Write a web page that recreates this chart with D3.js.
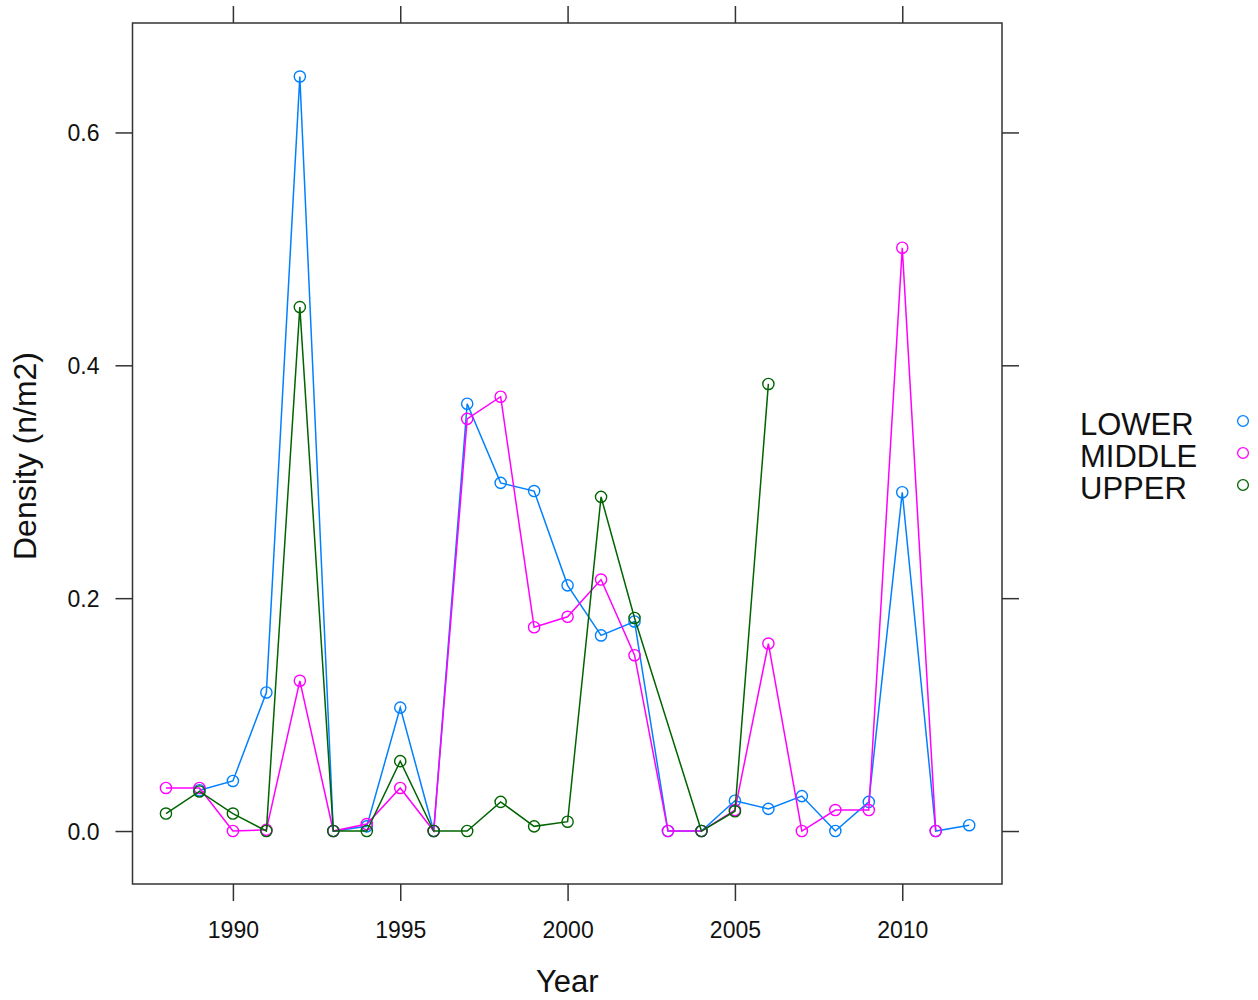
<!DOCTYPE html>
<html>
<head>
<meta charset="utf-8">
<script src="https://cdn.jsdelivr.net/npm/d3@7"></script>
<style>
  html, body { margin: 0; padding: 0; background: #ffffff; }
  svg { display: block; font-family: "Liberation Sans", Arial, sans-serif; }
</style>
</head>
<body>
<svg id="chart" width="1258" height="1000"></svg>
<script>
// Density by zone, yearly survey
const lowerYears  = [1989, 1990, 1991, 1992, 1993, 1994, 1995, 1996, 1997, 1998, 1999, 2000, 2001, 2002, 2003, 2004, 2005, 2006, 2007, 2008, 2009, 2010, 2011, 2012];
const lowerValues = [0.035, 0.043, 0.119, 0.648, 0.0, 0.004, 0.106, 0.0, 0.367, 0.299, 0.292, 0.211, 0.168, 0.180, 0.0, 0.0, 0.026, 0.019, 0.030, 0.0, 0.025, 0.291, 0.0, 0.005];

const middleYears  = [1988, 1989, 1990, 1991, 1992, 1993, 1994, 1995, 1996, 1997, 1998, 1999, 2000, 2001, 2002, 2003, 2004, 2005, 2006, 2007, 2008, 2009, 2010, 2011];
const middleValues = [0.037, 0.037, 0.0, 0.001, 0.129, 0.0, 0.006, 0.037, 0.0, 0.354, 0.373, 0.175, 0.184, 0.216, 0.151, 0.0, 0.0, 0.018, 0.161, 0.0, 0.018, 0.018, 0.501, 0.0];

const upperYears  = [1988, 1989, 1990, 1991, 1992, 1993, 1994, 1995, 1996, 1997, 1998, 1999, 2000, 2001, 2002, 2004, 2005, 2006];
const upperValues = [0.015, 0.034, 0.015, 0.0, 0.450, 0.0, 0.0, 0.060, 0.0, 0.0, 0.025, 0.004, 0.008, 0.287, 0.183, 0.0, 0.017, 0.384];

const groupNames = ["LOWER", "MIDDLE", "UPPER"];
const groupColors = ["#0080ff", "#ff00ff", "#006400"];

const xTicks = [1990, 1995, 2000, 2005, 2010];
const yTicks = [0.0, 0.2, 0.4, 0.6];

const xLabel = "Year";
const yLabel = "Density (n/m2)";

// Build series from the arrays above
const series = [
  { name: groupNames[0], color: groupColors[0], pts: lowerYears.map((y, i) => ({ x: y, v: lowerValues[i] })) },
  { name: groupNames[1], color: groupColors[1], pts: middleYears.map((y, i) => ({ x: y, v: middleValues[i] })) },
  { name: groupNames[2], color: groupColors[2], pts: upperYears.map((y, i) => ({ x: y, v: upperValues[i] })) }
];

const svg = d3.select("#chart");
const panel = { left: 132.5, right: 1002, top: 23, bottom: 884 };

const x = d3.scaleLinear().domain([1987.0, 2012.98]).range([panel.left, panel.right]);
const y = d3.scaleLinear().domain([-0.0455, 0.694]).range([panel.bottom, panel.top]);

const tickLen = 17;
const axisColor = "#333333";

// Axes: ticks on all four sides, labels on left and bottom only
const gBottom = svg.append("g").attr("transform", `translate(0,${panel.bottom})`)
  .call(d3.axisBottom(x).tickValues(xTicks).tickFormat(d3.format("d")).tickSize(tickLen).tickSizeOuter(0).tickPadding(21));
const gTop = svg.append("g").attr("transform", `translate(0,${panel.top})`)
  .call(d3.axisTop(x).tickValues(xTicks).tickFormat("").tickSize(tickLen).tickSizeOuter(0));
const gLeft = svg.append("g").attr("transform", `translate(${panel.left},0)`)
  .call(d3.axisLeft(y).tickValues(yTicks).tickFormat(d3.format(".1f")).tickSize(tickLen).tickSizeOuter(0).tickPadding(16));
const gRight = svg.append("g").attr("transform", `translate(${panel.right},0)`)
  .call(d3.axisRight(y).tickValues(yTicks).tickFormat("").tickSize(tickLen).tickSizeOuter(0));

[gBottom, gTop, gLeft, gRight].forEach(g => {
  g.select(".domain").remove();
  g.selectAll(".tick line").attr("stroke", axisColor).attr("stroke-width", 1.5);
  g.selectAll(".tick text").attr("fill", "#111111").attr("font-size", 23)
    .attr("font-family", "'Liberation Sans', Arial, sans-serif");
});
gLeft.selectAll(".tick text").attr("dy", "0.36em");

// Panel frame
svg.append("rect")
  .attr("x", panel.left).attr("y", panel.top)
  .attr("width", panel.right - panel.left).attr("height", panel.bottom - panel.top)
  .attr("fill", "none").attr("stroke", axisColor).attr("stroke-width", 1.5);

// Lines and open circles per group
const line = d3.line().x(d => x(d.x)).y(d => y(d.v));
series.forEach(s => {
  const g = svg.append("g");
  g.append("path").datum(s.pts)
    .attr("d", line).attr("fill", "none")
    .attr("stroke", s.color).attr("stroke-width", 1.5);
  g.selectAll("circle").data(s.pts).join("circle")
    .attr("cx", d => x(d.x)).attr("cy", d => y(d.v)).attr("r", 5.6)
    .attr("fill", "none").attr("stroke", s.color).attr("stroke-width", 1.4);
});

// Axis titles
svg.append("text")
  .attr("x", (panel.left + panel.right) / 2).attr("y", 992)
  .attr("text-anchor", "middle").attr("font-size", 31).attr("fill", "#111111")
  .text(xLabel);
svg.append("text")
  .attr("transform", "translate(36,456) rotate(-90)")
  .attr("text-anchor", "middle").attr("font-size", 32).attr("fill", "#111111")
  .text(yLabel);

// Key on the right
const key = svg.append("g");
series.forEach((s, i) => {
  const by = 435 + i * 32;
  key.append("text").attr("x", 1080).attr("y", by)
    .attr("font-size", 31).attr("fill", "#111111").text(s.name);
  key.append("circle").attr("cx", 1243).attr("cy", by - 14).attr("r", 5.4)
    .attr("fill", "none").attr("stroke", s.color).attr("stroke-width", 1.3);
});
</script>
</body>
</html>
